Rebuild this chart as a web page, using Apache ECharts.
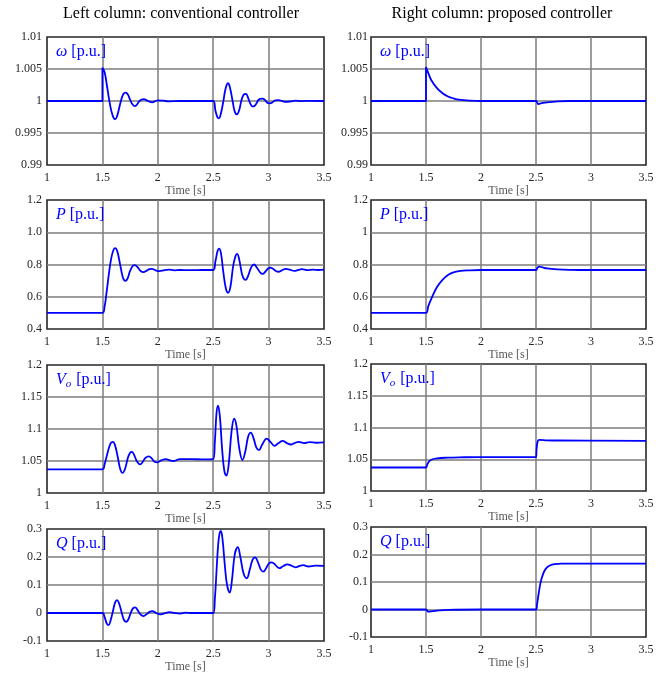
<!DOCTYPE html>
<html>
<head>
<meta charset="utf-8">
<script src="https://cdn.jsdelivr.net/npm/echarts@6/dist/echarts.min.js"></script>
<style>html,body{margin:0;padding:0;background:#fff}#c{width:671px;height:677px}</style>
</head>
<body>
<div id="c"></div>
<script>
// ---------- data ----------
const xTicks = ['1', '1.5', '2', '2.5', '3', '3.5'];
const omegaTicks = ['0.99', '0.995', '1', '1.005', '1.01'];
const pTicksLeft = ['0.4', '0.6', '0.8', '1.0', '1.2'];
const pTicksRight = ['0.4', '0.6', '0.8', '1', '1.2'];
const voTicks = ['1', '1.05', '1.1', '1.15', '1.2'];
const qTicks = ['-0.1', '0', '0.1', '0.2', '0.3'];

// omega, conventional
const tOmegaConv = [1, 1.5, 1.5, 1.52, 1.54, 1.56, 1.58, 1.6, 1.614, 1.63, 1.65, 1.67, 1.69, 1.71, 1.73, 1.75, 1.77, 1.79, 1.81, 1.83, 1.85, 1.875, 1.9, 1.93, 1.95, 1.98, 2.0, 2.05, 2.1, 2.2, 2.5,
  2.52, 2.54, 2.552, 2.57, 2.59, 2.61, 2.633, 2.65, 2.675, 2.695, 2.715, 2.735, 2.755, 2.775, 2.796, 2.815, 2.835, 2.855, 2.871, 2.89, 2.91, 2.943, 2.965, 2.99, 3.013, 3.035, 3.06, 3.09, 3.12, 3.16, 3.2, 3.24, 3.3, 3.35, 3.5];
const omegaConv = [1, 1, 1.0052, 1.0045, 1.0025, 1.0003, 0.9985, 0.9974, 0.99715, 0.9975, 0.9988, 1.0002, 1.0011, 1.0013, 1.001, 1.0002, 0.9995, 0.9992, 0.9994, 0.9999, 1.0002, 1.0003, 1.0001, 0.99985, 0.9998, 1.0, 1.0001, 1.00005, 0.99995, 1.0, 1.0,
  0.9985, 0.9974, 0.9973, 0.9981, 0.9998, 1.0018, 1.00277, 1.0022, 1.0, 0.9983, 0.99792, 0.9986, 1.0001, 1.001, 1.0011, 1.0005, 0.9996, 0.99915, 0.9992, 0.9996, 1.0002, 1.00036, 1.0002, 0.9997, 0.99964, 0.9998, 1.0001, 1.00015, 1.0, 0.99988, 0.99995, 1.00005, 0.99998, 1.00003, 1.0];

// omega, proposed
const tOmegaProp = [1, 1.5, 1.5, 1.52, 1.55, 1.6, 1.65, 1.7, 1.75, 1.8, 1.9, 2.0, 2.5, 2.52, 2.55, 2.6, 2.7, 2.8, 3.5];
const omegaProp = [1, 1, 1.0053, 1.0044, 1.0032, 1.0020, 1.0012, 1.0007, 1.0004, 1.0002, 1.00005, 1.0, 1.0, 0.99953, 0.99965, 0.9998, 0.99995, 1.0, 1.0];

// P, conventional
const tPConv = [1, 1.5, 1.52, 1.54, 1.56, 1.58, 1.6, 1.616, 1.635, 1.66, 1.685, 1.706, 1.725, 1.75, 1.775, 1.793, 1.815, 1.845, 1.871, 1.9, 1.925, 1.946, 1.98, 2.016, 2.05, 2.1, 2.15, 2.2, 2.3, 2.4, 2.5,
  2.52, 2.54, 2.553, 2.57, 2.59, 2.615, 2.635, 2.655, 2.68, 2.7, 2.716, 2.735, 2.76, 2.78, 2.794, 2.815, 2.845, 2.869, 2.895, 2.925, 2.947, 2.97, 2.995, 3.016, 3.04, 3.065, 3.091, 3.115, 3.157, 3.19, 3.232, 3.27, 3.3, 3.35, 3.4, 3.45, 3.5];
const pConv = [0.5, 0.5, 0.54, 0.64, 0.75, 0.84, 0.89, 0.901, 0.88, 0.80, 0.72, 0.699, 0.71, 0.76, 0.792, 0.796, 0.785, 0.76, 0.753, 0.762, 0.771, 0.773, 0.764, 0.759, 0.764, 0.768, 0.764, 0.766, 0.765, 0.766, 0.766,
  0.82, 0.885, 0.899, 0.87, 0.76, 0.65, 0.625, 0.66, 0.79, 0.85, 0.866, 0.83, 0.74, 0.708, 0.705, 0.73, 0.785, 0.8, 0.78, 0.75, 0.742, 0.755, 0.775, 0.781, 0.774, 0.76, 0.755, 0.762, 0.773, 0.768, 0.76, 0.767, 0.771, 0.765, 0.768, 0.766, 0.768];

// P, proposed
const tPProp = [1, 1.5, 1.52, 1.55, 1.6, 1.65, 1.7, 1.75, 1.8, 1.9, 2.0, 2.5, 2.515, 2.53, 2.56, 2.6, 2.7, 2.8, 2.9, 3.5];
const pProp = [0.5, 0.5, 0.54, 0.59, 0.66, 0.705, 0.735, 0.751, 0.759, 0.764, 0.766, 0.766, 0.782, 0.787, 0.782, 0.776, 0.77, 0.767, 0.766, 0.766];

// Vo, conventional
const tVoConv = [1, 1.5, 1.52, 1.55, 1.575, 1.595, 1.615, 1.64, 1.66, 1.682, 1.705, 1.73, 1.75, 1.766, 1.785, 1.81, 1.841, 1.865, 1.89, 1.919, 1.945, 1.97, 1.998, 2.03, 2.073, 2.11, 2.142, 2.2, 2.3, 2.4, 2.5,
  2.515, 2.53, 2.544, 2.56, 2.58, 2.6, 2.619, 2.64, 2.665, 2.689, 2.71, 2.735, 2.764, 2.79, 2.815, 2.839, 2.865, 2.89, 2.914, 2.94, 2.983, 3.02, 3.055, 3.09, 3.127, 3.165, 3.2, 3.235, 3.27, 3.32, 3.37, 3.43, 3.5];
const voConv = [1.037, 1.037, 1.045, 1.065, 1.078, 1.080, 1.074, 1.055, 1.038, 1.0314, 1.038, 1.055, 1.063, 1.0644, 1.06, 1.05, 1.0448, 1.049, 1.055, 1.0572, 1.054, 1.049, 1.048, 1.051, 1.053, 1.051, 1.05, 1.053, 1.053, 1.0525, 1.053,
  1.08, 1.125, 1.1366, 1.12, 1.07, 1.035, 1.0273, 1.045, 1.095, 1.116, 1.105, 1.07, 1.0515, 1.065, 1.088, 1.0943, 1.085, 1.071, 1.067, 1.075, 1.085, 1.079, 1.0737, 1.078, 1.0814, 1.078, 1.0758, 1.078, 1.0799, 1.078, 1.0795, 1.0785, 1.079];

// Vo, proposed
const tVoProp = [1, 1.5, 1.51, 1.53, 1.56, 1.6, 1.7, 1.8, 2.0, 2.5, 2.505, 2.515, 2.53, 2.6, 2.7, 3.5];
const voProp = [1.037, 1.037, 1.041, 1.047, 1.050, 1.0515, 1.0525, 1.053, 1.0535, 1.0535, 1.065, 1.078, 1.0805, 1.0798, 1.0795, 1.079];

// Q, conventional
const tQConv = [1, 1.5, 1.52, 1.54, 1.556, 1.575, 1.6, 1.615, 1.631, 1.65, 1.675, 1.695, 1.715, 1.735, 1.76, 1.78, 1.796, 1.815, 1.845, 1.871, 1.9, 1.925, 1.952, 1.985, 2.02, 2.06, 2.106, 2.15, 2.2, 2.25, 2.3, 2.5,
  2.515, 2.53, 2.545, 2.558, 2.569, 2.585, 2.605, 2.625, 2.649, 2.67, 2.695, 2.722, 2.745, 2.775, 2.803, 2.83, 2.855, 2.878, 2.905, 2.93, 2.953, 2.98, 3.005, 3.028, 3.06, 3.097, 3.13, 3.169, 3.2, 3.244, 3.28, 3.313, 3.36, 3.42, 3.5];
const qConv = [0, 0, -0.015, -0.038, -0.043, -0.025, 0.015, 0.038, 0.046, 0.035, 0.0, -0.025, -0.032, -0.022, 0.005, 0.018, 0.02, 0.012, -0.006, -0.011, -0.004, 0.004, 0.007, 0.0, -0.005, -0.001, 0.003, 0.0, -0.002, 0.001, 0, 0,
  0.05, 0.15, 0.245, 0.285, 0.293, 0.26, 0.17, 0.1, 0.073, 0.12, 0.21, 0.235, 0.2, 0.14, 0.124, 0.155, 0.19, 0.199, 0.18, 0.155, 0.148, 0.162, 0.178, 0.181, 0.172, 0.16, 0.167, 0.174, 0.17, 0.163, 0.168, 0.171, 0.166, 0.169, 0.168];

// Q, proposed
const tQProp = [1, 1.5, 1.52, 1.56, 1.62, 1.7, 2.0, 2.5, 2.51, 2.525, 2.54, 2.555, 2.575, 2.6, 2.63, 2.67, 2.73, 3.5];
const qProp = [0, 0, -0.008, -0.006, -0.003, -0.001, 0, 0, 0.02, 0.06, 0.095, 0.118, 0.139, 0.153, 0.161, 0.165, 0.167, 0.167];

// ---------- layout ----------
const colLeft = [{left: 47, width: 277}, {left: 371, width: 275}];
const rows = [
  [{top: 37, height: 128}, {top: 37, height: 128}],
  [{top: 200, height: 129}, {top: 200, height: 129}],
  [{top: 365, height: 128}, {top: 364, height: 127}],
  [{top: 529, height: 112}, {top: 527, height: 110}]
];
const panels = [
  {row: 0, col: 0, t: tOmegaConv, y: omegaConv, ticks: omegaTicks, min: 0.99, max: 1.01, step: 0.005, label: '{i|ω} [p.u.]'},
  {row: 0, col: 1, t: tOmegaProp, y: omegaProp, ticks: omegaTicks, min: 0.99, max: 1.01, step: 0.005, label: '{i|ω} [p.u.]'},
  {row: 1, col: 0, t: tPConv, y: pConv, ticks: pTicksLeft, min: 0.4, max: 1.2, step: 0.2, label: '{i|P} [p.u.]'},
  {row: 1, col: 1, t: tPProp, y: pProp, ticks: pTicksRight, min: 0.4, max: 1.2, step: 0.2, label: '{i|P} [p.u.]'},
  {row: 2, col: 0, t: tVoConv, y: voConv, ticks: voTicks, min: 1.0, max: 1.2, step: 0.05, label: '{i|V}{sub|o} [p.u.]'},
  {row: 2, col: 1, t: tVoProp, y: voProp, ticks: voTicks, min: 1.0, max: 1.2, step: 0.05, label: '{i|V}{sub|o} [p.u.]'},
  {row: 3, col: 0, t: tQConv, y: qConv, ticks: qTicks, min: -0.1, max: 0.3, step: 0.1, label: '{i|Q} [p.u.]'},
  {row: 3, col: 1, t: tQProp, y: qProp, ticks: qTicks, min: -0.1, max: 0.3, step: 0.1, label: '{i|Q} [p.u.]'}
];

const FONT = '"Liberation Serif", "Times New Roman", serif';
const grids = [], xAxes = [], yAxes = [], series = [], graphics = [];

panels.forEach((p, i) => {
  const c = colLeft[p.col], r = rows[p.row][p.col];
  grids.push({left: c.left, width: c.width, top: r.top, height: r.height, show: true,
    backgroundColor: '#fff', borderColor: '#262626', borderWidth: 1.6, containLabel: false});
  xAxes.push({type: 'value', gridIndex: i, min: 1, max: 3.5, interval: 0.5,
    name: 'Time [s]', nameLocation: 'middle', nameGap: 19,
    nameTextStyle: {fontFamily: FONT, fontSize: 12, color: '#555'},
    axisLine: {show: false}, axisTick: {show: false},
    axisLabel: {fontFamily: FONT, fontSize: 12, color: '#262626', margin: 7,
      formatter: v => xTicks[Math.round((v - 1) / 0.5)]},
    splitLine: {show: true, showMinLine: false, showMaxLine: false, lineStyle: {color: '#7d7d7d', width: 1.5}}});
  yAxes.push({type: 'value', gridIndex: i, min: p.min, max: p.max, interval: p.step,
    axisLine: {show: false}, axisTick: {show: false},
    axisLabel: {fontFamily: FONT, fontSize: 12, color: '#262626', margin: p.col === 0 ? 5 : 3,
      formatter: v => p.ticks[Math.round((v - p.min) / p.step)]},
    splitLine: {show: true, showMinLine: false, showMaxLine: false, lineStyle: {color: '#7d7d7d', width: 1.5}}});
  series.push({type: 'line', xAxisIndex: i, yAxisIndex: i, showSymbol: false, symbol: 'none',
    smooth: 0.4, data: p.t.map((t, k) => [t, p.y[k]]),
    lineStyle: {color: '#0000ff', width: 1.8}, animation: false, z: 5});
  graphics.push({type: 'text', x: c.left + 9, y: r.top + 15, z: 10,
    style: {text: p.label, fill: '#0000ff', font: '16px ' + FONT, verticalAlign: 'middle',
      rich: {i: {fontStyle: 'italic', fontSize: 16, fontFamily: FONT, fill: '#0000ff'},
             sub: {fontStyle: 'italic', fontSize: 11, fontFamily: FONT, fill: '#0000ff', padding: [8, 1, 0, 0]}}}});
});

graphics.push({type: 'text', x: 181, y: 14, style: {text: 'Left column: conventional controller', font: '16px ' + FONT, fill: '#000', align: 'center', verticalAlign: 'middle'}});
graphics.push({type: 'text', x: 502, y: 14, style: {text: 'Right column: proposed controller', font: '16px ' + FONT, fill: '#000', align: 'center', verticalAlign: 'middle'}});

const chart = echarts.init(document.getElementById('c'), null, {renderer: 'canvas'});
chart.setOption({animation: false, backgroundColor: '#fff', grid: grids, xAxis: xAxes, yAxis: yAxes, series: series, graphic: graphics});
</script>
</body>
</html>
